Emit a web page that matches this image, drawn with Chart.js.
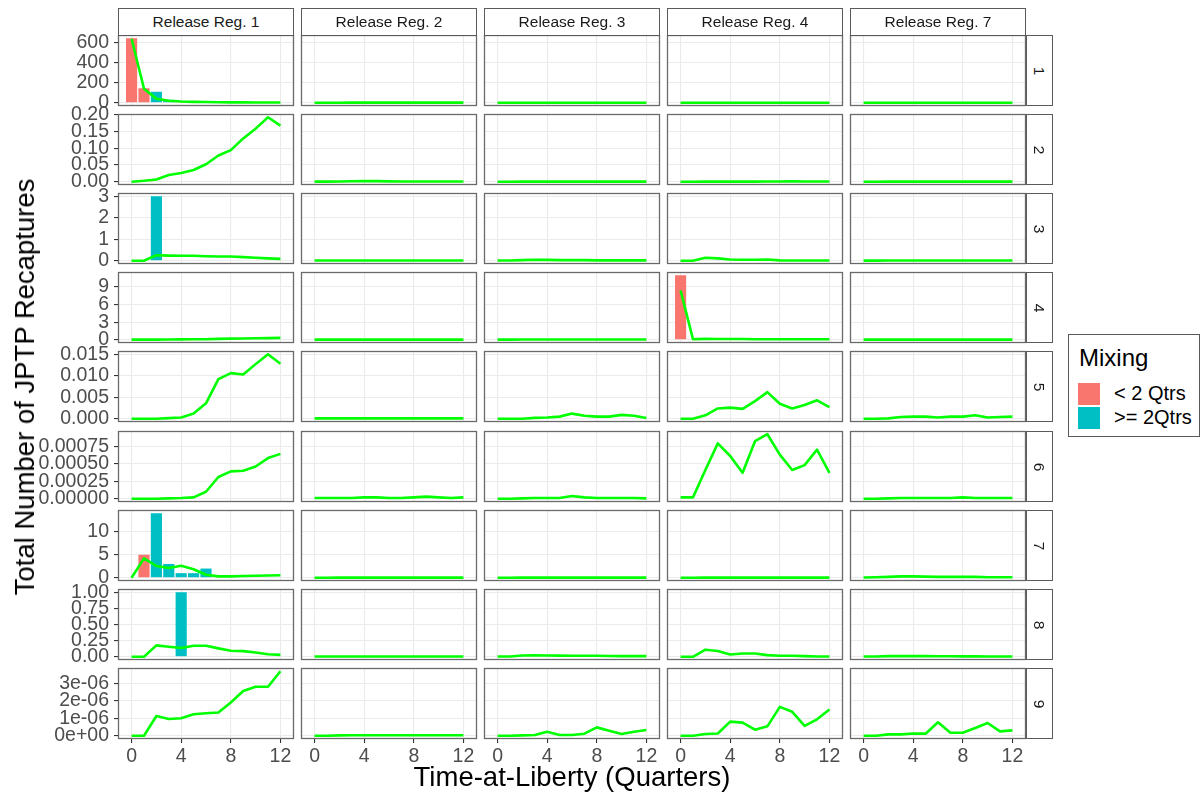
<!DOCTYPE html>
<html>
<head>
<meta charset="utf-8">
<script src="https://cdn.jsdelivr.net/npm/chart.js@4.4.0/dist/chart.umd.min.js"></script>
<style>
  html, body { margin: 0; padding: 0; background: #ffffff; }
  body { width: 1202px; height: 801px; position: relative; overflow: hidden;
         font-family: 'Liberation Sans', Arial, sans-serif; }
  canvas { position: absolute; }
  .strip { position: absolute; box-sizing: border-box; border: 1px solid #5a5a5a; background: #fff;
           color: #1a1a1a; font-size: 15.5px; display: flex; align-items: center; justify-content: center; }
  .strip.side span { display: block; transform: rotate(90deg); }
  .title { position: absolute; white-space: nowrap; color: #000; font-size: 27.5px; transform: translate(-50%, -50%); }
  .legend { position: absolute; left: 1068px; top: 334px; width: 132px; height: 103px; box-sizing: border-box;
            border: 1px solid #5a5a5a; background: #fff; }
  .legend .lt { position: absolute; left: 10px; top: 9px; font-size: 24px; color: #000; }
  .legend .key { position: absolute; left: 9px; width: 22px; height: 22px; }
  .legend .lab { position: absolute; left: 45px; font-size: 20px; color: #000; }
</style>
</head>
<body>
<script>
// Quarters at liberty and facet labels
const quarters = [0, 1, 2, 3, 4, 5, 6, 7, 8, 9, 10, 11, 12];
const releaseRegions = ['Release Reg. 1', 'Release Reg. 2', 'Release Reg. 3', 'Release Reg. 4', 'Release Reg. 7'];
const recaptureAreas = ['1', '2', '3', '4', '5', '6', '7', '8', '9'];
const mixingLabels = ['< 2 Qtrs', '>= 2Qtrs'];
const xTicks = [0, 4, 8, 12];

// Predicted recaptures per recapture area; one series per release region (1, 2, 3, 4, 7)
const area1 = [
  [640, 140, 40, 20, 12, 9, 7, 5, 4, 4, 3, 3, 3],
  [0.5, 0.5, 0.8, 1, 1, 1, 1, 1, 1, 1, 1, 1, 1],
  [0.3, 0.3, 0.5, 0.6, 0.6, 0.6, 0.6, 0.6, 0.6, 0.6, 0.6, 0.6, 0.6],
  [0.5, 0.5, 0.8, 0.9, 0.9, 0.9, 0.9, 0.9, 0.9, 0.9, 0.9, 0.9, 0.9],
  [0.2, 0.2, 0.3, 0.4, 0.4, 0.4, 0.4, 0.4, 0.4, 0.4, 0.4, 0.4, 0.4]
];
const area2 = [
  [0, 0.003, 0.007, 0.020, 0.026, 0.035, 0.052, 0.078, 0.094, 0.129, 0.158, 0.192, 0.167],
  [0.0005, 0.0005, 0.001, 0.0015, 0.0025, 0.002, 0.0012, 0.001, 0.001, 0.001, 0.0008, 0.0008, 0.0008],
  [0.0002, 0.0002, 0.0003, 0.0004, 0.0004, 0.0004, 0.0004, 0.0004, 0.0004, 0.0004, 0.0004, 0.0004, 0.0004],
  [0.0002, 0.0002, 0.0004, 0.0005, 0.0005, 0.0005, 0.0005, 0.0006, 0.0008, 0.0012, 0.0008, 0.0006, 0.0006],
  [0.0002, 0.0002, 0.0003, 0.0003, 0.0003, 0.0003, 0.0003, 0.0003, 0.0003, 0.0003, 0.0003, 0.0003, 0.0003]
];
const area3 = [
  [0, 0, 0.26, 0.24, 0.23, 0.23, 0.21, 0.2, 0.2, 0.17, 0.14, 0.11, 0.09],
  [0.01, 0.01, 0.01, 0.01, 0.01, 0.01, 0.01, 0.01, 0.01, 0.01, 0.01, 0.01, 0.01],
  [0.01, 0.01, 0.03, 0.05, 0.04, 0.03, 0.03, 0.03, 0.02, 0.02, 0.02, 0.02, 0.02],
  [0, 0, 0.14, 0.11, 0.06, 0.05, 0.05, 0.06, 0.02, 0.01, 0.01, 0.01, 0.01],
  [0.005, 0.005, 0.01, 0.01, 0.01, 0.01, 0.01, 0.01, 0.01, 0.01, 0.01, 0.01, 0.01]
];
const area4 = [
  [0.02, 0.02, 0.03, 0.05, 0.06, 0.08, 0.1, 0.15, 0.2, 0.22, 0.25, 0.28, 0.32],
  [0.02, 0.02, 0.03, 0.03, 0.03, 0.03, 0.03, 0.03, 0.03, 0.03, 0.03, 0.03, 0.03],
  [0.02, 0.02, 0.04, 0.05, 0.05, 0.05, 0.05, 0.05, 0.05, 0.05, 0.05, 0.05, 0.05],
  [8.4, 0.1, 0.15, 0.14, 0.12, 0.12, 0.1, 0.1, 0.1, 0.1, 0.1, 0.1, 0.1],
  [0.02, 0.02, 0.03, 0.03, 0.03, 0.03, 0.03, 0.03, 0.03, 0.03, 0.03, 0.03, 0.03]
];
const area5 = [
  [0, 0, 0, 0.00016, 0.0003, 0.0012, 0.0036, 0.0092, 0.0106, 0.0103, 0.0127, 0.0150, 0.0128],
  [0.0001, 0.0001, 0.0001, 0.0001, 0.0001, 0.0001, 0.0001, 0.0001, 0.0001, 0.0001, 0.0001, 0.0001, 0.0001],
  [0, 0, 0, 0.0002, 0.0003, 0.0005, 0.0012, 0.0007, 0.0005, 0.0005, 0.0009, 0.0007, 0.0002],
  [0, 0, 0.0008, 0.0024, 0.0026, 0.0023, 0.0041, 0.0062, 0.0035, 0.0024, 0.0032, 0.0043, 0.0027],
  [0, 0, 0.0001, 0.0004, 0.0005, 0.0005, 0.0003, 0.0005, 0.0005, 0.0008, 0.0003, 0.0004, 0.0005]
];
const area6 = [
  [0, 0, 0, 0.000005, 0.00001, 0.00002, 0.0001, 0.00031, 0.00039, 0.0004, 0.00046, 0.00058, 0.00064],
  [0.00001, 0.00001, 0.00001, 0.00001, 0.00002, 0.00002, 0.00001, 0.00001, 0.00002, 0.00003, 0.00002, 0.00001, 0.00002],
  [0, 0, 0.000005, 0.00001, 0.00001, 0.00001, 0.00004, 0.00002, 0.00001, 0.00001, 0.00001, 0.00001, 0.000005],
  [0.00002, 0.00002, 0.00041, 0.00079, 0.00061, 0.00037, 0.00082, 0.00092, 0.00063, 0.00041, 0.00048, 0.0007, 0.00037],
  [0, 0, 0.000005, 0.00001, 0.00001, 0.00001, 0.00001, 0.00001, 0.00002, 0.00001, 0.00001, 0.00001, 0.00001]
];
const area7 = [
  [0, 4.2, 2.55, 2.1, 2.6, 1.85, 0.66, 0.3, 0.3, 0.37, 0.44, 0.5, 0.55],
  [0.02, 0.02, 0.03, 0.03, 0.03, 0.03, 0.03, 0.03, 0.03, 0.03, 0.03, 0.03, 0.03],
  [0.02, 0.02, 0.03, 0.03, 0.03, 0.03, 0.03, 0.03, 0.03, 0.03, 0.03, 0.03, 0.03],
  [0.02, 0.02, 0.03, 0.03, 0.03, 0.03, 0.03, 0.03, 0.03, 0.03, 0.03, 0.03, 0.03],
  [0.05, 0.1, 0.2, 0.3, 0.3, 0.25, 0.2, 0.2, 0.2, 0.2, 0.1, 0.1, 0.1]
];
const area8 = [
  [0, 0, 0.176, 0.155, 0.135, 0.17, 0.17, 0.13, 0.093, 0.088, 0.067, 0.04, 0.03],
  [0.005, 0.005, 0.005, 0.005, 0.005, 0.005, 0.005, 0.005, 0.005, 0.005, 0.005, 0.005, 0.005],
  [0.005, 0.005, 0.02, 0.022, 0.02, 0.018, 0.015, 0.015, 0.015, 0.012, 0.01, 0.01, 0.01],
  [0, 0, 0.11, 0.09, 0.036, 0.05, 0.05, 0.026, 0.015, 0.015, 0.01, 0.005, 0.005],
  [0.005, 0.005, 0.01, 0.01, 0.01, 0.01, 0.008, 0.008, 0.006, 0.006, 0.005, 0.005, 0.005]
];
const area9 = [
  [0, 0, 1.13e-6, 0.96e-6, 1.0e-6, 1.23e-6, 1.29e-6, 1.33e-6, 1.9e-6, 2.56e-6, 2.8e-6, 2.8e-6, 3.69e-6],
  [0, 0, 0.02e-6, 0.03e-6, 0.03e-6, 0.03e-6, 0.03e-6, 0.03e-6, 0.03e-6, 0.03e-6, 0.03e-6, 0.03e-6, 0.03e-6],
  [0, 0, 0.02e-6, 0.04e-6, 0.23e-6, 0.04e-6, 0.04e-6, 0.12e-6, 0.48e-6, 0.29e-6, 0.1e-6, 0.23e-6, 0.33e-6],
  [0, 0, 0.1e-6, 0.13e-6, 0.81e-6, 0.75e-6, 0.35e-6, 0.54e-6, 1.65e-6, 1.37e-6, 0.56e-6, 0.94e-6, 1.5e-6],
  [0, 0, 0.08e-6, 0.08e-6, 0.13e-6, 0.12e-6, 0.77e-6, 0.17e-6, 0.17e-6, 0.44e-6, 0.73e-6, 0.25e-6, 0.31e-6]
];
const predicted = [area1, area2, area3, area4, area5, area6, area7, area8, area9];

// Observed recaptures by mixing period (< 2 quarters, >= 2 quarters)
const shortA1R1 = [645, 145, 0, 0, 0, 0, 0, 0, 0, 0, 0, 0, 0];
const longA1R1  = [0, 0, 110, 30, 0, 0, 0, 0, 0, 0, 0, 0, 0];
const longA3R1  = [0, 0, 3, 0, 0, 0, 0, 0, 0, 0, 0, 0, 0];
const shortA4R4 = [11, 0, 0, 0, 0, 0, 0, 0, 0, 0, 0, 0, 0];
const shortA7R1 = [0, 5, 0, 0, 0, 0, 0, 0, 0, 0, 0, 0, 0];
const longA7R1  = [0, 0, 14, 3, 1, 1, 2, 0, 0, 0, 0, 0, 0];
const longA8R1  = [0, 0, 0, 0, 1, 0, 0, 0, 0, 0, 0, 0, 0];
const zeros13   = [0, 0, 0, 0, 0, 0, 0, 0, 0, 0, 0, 0, 0];
const observedPanels = [
  { area: 0, reg: 0, short: shortA1R1, long: longA1R1 },
  { area: 2, reg: 0, short: zeros13, long: longA3R1 },
  { area: 3, reg: 3, short: shortA4R4, long: zeros13 },
  { area: 6, reg: 0, short: shortA7R1, long: longA7R1 },
  { area: 7, reg: 0, short: zeros13, long: longA8R1 }
];

// Y tick values and labels per recapture area
const yTicks = [
  [0, 200, 400, 600],
  [0, 0.05, 0.10, 0.15, 0.20],
  [0, 1, 2, 3],
  [0, 3, 6, 9],
  [0, 0.005, 0.010, 0.015],
  [0, 0.00025, 0.0005, 0.00075],
  [0, 5, 10],
  [0, 0.25, 0.5, 0.75, 1],
  [0, 1e-6, 2e-6, 3e-6]
];
const yTickLabels = [
  ['0', '200', '400', '600'],
  ['0.00', '0.05', '0.10', '0.15', '0.20'],
  ['0', '1', '2', '3'],
  ['0', '3', '6', '9'],
  ['0.000', '0.005', '0.010', '0.015'],
  ['0.00000', '0.00025', '0.00050', '0.00075'],
  ['0', '5', '10'],
  ['0.00', '0.25', '0.50', '0.75', '1.00'],
  ['0e+00', '1e-06', '2e-06', '3e-06']
];

// ---- layout ----
const COLORS = { short: '#F8766D', long: '#00BFC4', line: '#00FF00', grid: '#EBEBEB', border: '#6a6a6a', tick: '#4D4D4D' };
const FONT = "'Liberation Sans', Arial, sans-serif";
const PANEL_W = 176, PANEL_H = 71;
const colLeft = c => 118 + 183 * c;
const rowTop = r => Math.round(35 + 79.1 * r);
const PAD = 24, Y_AXIS_W = 118, X_AXIS_H = 30;

// shared x range: bars of width 0.9 plus 5% expansion
const BAR_W = 0.9;
const xLo = quarters[0] - BAR_W / 2, xHi = quarters[quarters.length - 1] + BAR_W / 2;
const X_MIN = xLo - 0.05 * (xHi - xLo), X_MAX = xHi + 0.05 * (xHi - xLo);

Chart.defaults.font.family = FONT;

const panelBorder = {
  id: 'panelBorder',
  afterDraw(chart) {
    const a = chart.chartArea, ctx = chart.ctx;
    ctx.save();
    ctx.strokeStyle = COLORS.border;
    ctx.lineWidth = 1.3;
    ctx.strokeRect(a.left + 0.5, a.top + 0.5, a.right - a.left - 1, a.bottom - a.top - 1);
    ctx.restore();
  }
};

function rowMax(r) {
  let m = 0;
  predicted[r].forEach(s => s.forEach(v => { m = Math.max(m, v); }));
  observedPanels.filter(o => o.area === r).forEach(o => {
    o.short.forEach(v => { m = Math.max(m, v); });
    o.long.forEach(v => { m = Math.max(m, v); });
  });
  return m;
}

for (let r = 0; r < recaptureAreas.length; r++) {
  const M = rowMax(r);
  const yMin = -0.05 * M, yMax = 1.05 * M;
  const isBottom = r === recaptureAreas.length - 1;

  for (let c = 0; c < releaseRegions.length; c++) {
    const isLeft = c === 0;
    const leftExtra = isLeft ? Y_AXIS_W : PAD;
    const bottomExtra = isBottom ? X_AXIS_H : PAD;
    const cv = document.createElement('canvas');
    const w = PANEL_W + leftExtra + PAD, h = PANEL_H + PAD + bottomExtra;
    cv.width = w; cv.height = h;
    cv.style.left = (colLeft(c) - leftExtra) + 'px';
    cv.style.top = (rowTop(r) - PAD) + 'px';
    cv.style.width = w + 'px'; cv.style.height = h + 'px';
    document.body.appendChild(cv);

    const datasets = [{
      type: 'line',
      data: quarters.map((q, i) => ({ x: q, y: predicted[r][c][i] })),
      borderColor: COLORS.line, borderWidth: 2.6, pointRadius: 0, tension: 0,
      borderJoinStyle: 'round', order: 0
    }];
    const obs = observedPanels.find(o => o.area === r && o.reg === c);
    if (obs) {
      datasets.push({
        type: 'bar', label: mixingLabels[0],
        data: quarters.map((q, i) => ({ x: q, y: obs.short[i] })),
        backgroundColor: COLORS.short, borderWidth: 0, grouped: false,
        categoryPercentage: 1, barPercentage: BAR_W, order: 1
      });
      datasets.push({
        type: 'bar', label: mixingLabels[1],
        data: quarters.map((q, i) => ({ x: q, y: obs.long[i] })),
        backgroundColor: COLORS.long, borderWidth: 0, grouped: false,
        categoryPercentage: 1, barPercentage: BAR_W, order: 2
      });
    }

    const labelsFor = yTickLabels[r];
    const ticksFor = yTicks[r];

    new Chart(cv, {
      type: 'line',
      data: { datasets },
      plugins: [panelBorder],
      options: {
        responsive: false, animation: false, devicePixelRatio: 1,
        events: [],
        layout: { padding: { left: isLeft ? 0 : PAD, right: PAD, top: PAD, bottom: isBottom ? 0 : PAD } },
        plugins: { legend: { display: false }, tooltip: { enabled: false } },
        scales: {
          x: {
            type: 'linear', min: X_MIN, max: X_MAX, offset: false,
            afterBuildTicks: s => { s.ticks = xTicks.map(v => ({ value: v })); },
            afterFit: s => { s.height = isBottom ? X_AXIS_H : 0; },
            grid: { color: COLORS.grid, lineWidth: 1.1, offset: false, drawTicks: isBottom, tickLength: 4, tickColor: '#333333' },
            border: { display: false },
            ticks: { display: isBottom, color: COLORS.tick, font: { size: 19.5, family: FONT }, padding: 2,
                     maxRotation: 0, autoSkip: false, callback: v => String(v) }
          },
          y: {
            type: 'linear', min: yMin, max: yMax,
            afterBuildTicks: s => {
              const tol = (yMax - yMin) * 1e-6;
              s.ticks = ticksFor.filter(v => v >= yMin - tol && v <= yMax + tol).map(v => ({ value: v }));
            },
            afterFit: s => { s.width = isLeft ? Y_AXIS_W : 0; },
            grid: { color: COLORS.grid, lineWidth: 1.1, drawTicks: isLeft, tickLength: 4, tickColor: '#333333' },
            border: { display: false },
            ticks: {
              display: isLeft, color: COLORS.tick, font: { size: 19.5, family: FONT }, padding: 5, autoSkip: false,
              callback: (v) => {
                const k = ticksFor.findIndex(t => Math.abs(t - v) <= Math.abs(v) * 1e-9 + 1e-15);
                return k >= 0 ? labelsFor[k] : '';
              }
            }
          }
        }
      }
    });
  }
}

// facet strips
releaseRegions.forEach((name, c) => {
  const d = document.createElement('div');
  d.className = 'strip';
  d.style.left = colLeft(c) + 'px'; d.style.top = '8px';
  d.style.width = PANEL_W + 'px'; d.style.height = '28px';
  d.textContent = name;
  document.body.appendChild(d);
});
recaptureAreas.forEach((name, r) => {
  const d = document.createElement('div');
  d.className = 'strip side';
  d.style.left = (colLeft(releaseRegions.length - 1) + PANEL_W) + 'px';
  d.style.top = rowTop(r) + 'px';
  d.style.width = '27px'; d.style.height = PANEL_H + 'px';
  const s = document.createElement('span');
  s.textContent = name;
  d.appendChild(s);
  document.body.appendChild(d);
});

// axis titles
const yTitle = document.createElement('div');
yTitle.className = 'title';
yTitle.style.left = '25px'; yTitle.style.top = '387px';
yTitle.style.transform = 'translate(-50%, -50%) rotate(-90deg)';
yTitle.textContent = 'Total Number of JPTP Recaptures';
document.body.appendChild(yTitle);

const xTitle = document.createElement('div');
xTitle.className = 'title';
xTitle.style.left = '572px'; xTitle.style.top = '777px';
xTitle.textContent = 'Time-at-Liberty (Quarters)';
document.body.appendChild(xTitle);

// legend
const lg = document.createElement('div');
lg.className = 'legend';
lg.innerHTML = '<div class="lt">Mixing</div>';
[COLORS.short, COLORS.long].forEach((col, i) => {
  const k = document.createElement('div');
  k.className = 'key';
  k.style.top = (48 + i * 24) + 'px';
  k.style.background = col;
  lg.appendChild(k);
  const t = document.createElement('div');
  t.className = 'lab';
  t.style.top = (47 + i * 24) + 'px';
  t.textContent = mixingLabels[i];
  lg.appendChild(t);
});
document.body.appendChild(lg);
</script>
</body>
</html>
